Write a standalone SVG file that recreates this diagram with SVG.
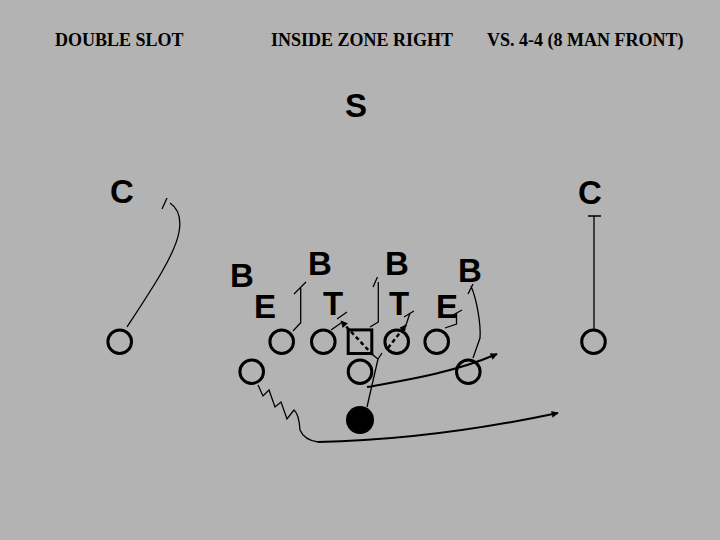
<svg xmlns="http://www.w3.org/2000/svg" width="720" height="540" viewBox="0 0 720 540">
<defs>
<style>
.title{font-family:"Liberation Serif","Times New Roman",serif;font-weight:bold;font-size:18px;fill:#000}
.def{font-family:"Liberation Sans",Arial,sans-serif;font-weight:bold;font-size:33px;fill:#000;text-anchor:middle}
.off{fill:none;stroke:#000;stroke-width:3}
.thin{fill:none;stroke:#000;stroke-width:1.3}
.route{fill:none;stroke:#000;stroke-width:2}
.dash{fill:none;stroke:#000;stroke-width:2.5;stroke-dasharray:4 3}
</style>
<marker id="ah" viewBox="0 0 10 10" refX="9" refY="5" markerWidth="5" markerHeight="5" orient="auto" markerUnits="userSpaceOnUse">
<path d="M0,0 L10,5 L0,10 z" fill="#000"/>
</marker>
<marker id="ahs" viewBox="0 0 10 10" refX="9" refY="5" markerWidth="9" markerHeight="7" orient="auto" markerUnits="userSpaceOnUse">
<path d="M0,0 L10,5 L0,10 z" fill="#000"/>
</marker>
</defs>
<rect width="720" height="540" fill="#b3b3b3"/>
<g id="titles">
<text class="title" x="55" y="46">DOUBLE SLOT</text>
<text class="title" x="271" y="46">INSIDE ZONE RIGHT</text>
<text class="title" x="487" y="46">VS. 4-4 (8 MAN FRONT)</text>
</g>
<g id="connectors">
<path class="thin" d="M127,327 C150,292 175,255 179,232 C182,215 176,207 170,203"/>
<path class="thin" d="M162,209 L167,198"/>
<path class="thin" d="M594,330 L594,216 M588,216 L601,216"/>
<path class="thin" d="M293,331 L300.7,322.7 L300.7,288 M294,294 L306,282"/>
<path class="thin" d="M331,330 L341,323 M337,319 L347,312"/>
<path class="thin" d="M370,327 L378.3,322 L378.3,282 M373,287 L377.5,277"/>
<path class="thin" d="M406,325 L410,313 M404,317 L414,311"/>
<path class="thin" d="M445,328 L456.5,324 L456.5,313 M453,315 L462,310"/>
<path class="thin" d="M468,294 L473,284 M471,286 C477,300 481,325 480,338 L473,358"/>
<path class="dash" d="M373,355 L341,321" marker-end="url(#ahs)"/>
<path class="dash" d="M388,348 L406,325" marker-end="url(#ahs)"/>
<path class="thin" d="M378,359 L367,407 M373,355 L378,359 L382,353"/>
<path class="route" d="M367,387 C400,381 450,374 497,354" marker-end="url(#ahs)"/>
<path class="thin" d="M258,385 L263,396 L269,390 L275,407 L281,402 L287,419 L294,410 Q299,414 300,430 Q304,440 318,442"/>
<path class="route" d="M318,442 Q430,440 558,413" marker-end="url(#ahs)"/>
</g>
<g id="defense">
<text id="S" class="def" x="356" y="117" font-size="38">S</text>
<text id="CL" class="def" x="122" y="203">C</text>
<text id="CR" class="def" x="590" y="204">C</text>
<text id="B1" class="def" x="242" y="287">B</text>
<text id="B2" class="def" x="320" y="275">B</text>
<text id="B3" class="def" x="397" y="275">B</text>
<text id="B4" class="def" x="470" y="282">B</text>
<text id="E1" class="def" x="265" y="318">E</text>
<text id="T1" class="def" x="333" y="315">T</text>
<text id="T2" class="def" x="399" y="315">T</text>
<text id="E2" class="def" x="447" y="318">E</text>
</g>
<g id="offense">
<circle id="WRL" class="off" cx="119.7" cy="341.7" r="11.8"/>
<circle id="LT" class="off" cx="281.7" cy="341.7" r="11.8"/>
<circle id="LG" class="off" cx="323.3" cy="341.7" r="11.8"/>
<rect id="C" class="off" x="348.2" y="329.9" width="23.6" height="23.6"/>
<circle id="RG" class="off" cx="396.7" cy="341.7" r="11.8"/>
<circle id="RT" class="off" cx="436.7" cy="341.7" r="11.8"/>
<circle id="WRR" class="off" cx="593.5" cy="341.7" r="11.8"/>
<circle id="SL" class="off" cx="251.7" cy="371.7" r="11.8"/>
<circle id="QB" class="off" cx="360" cy="371.7" r="11.8"/>
<circle id="SR" class="off" cx="468.3" cy="371.7" r="11.8"/>
<circle id="RB" cx="360" cy="420" r="14" fill="#000"/>
</g>
</svg>
